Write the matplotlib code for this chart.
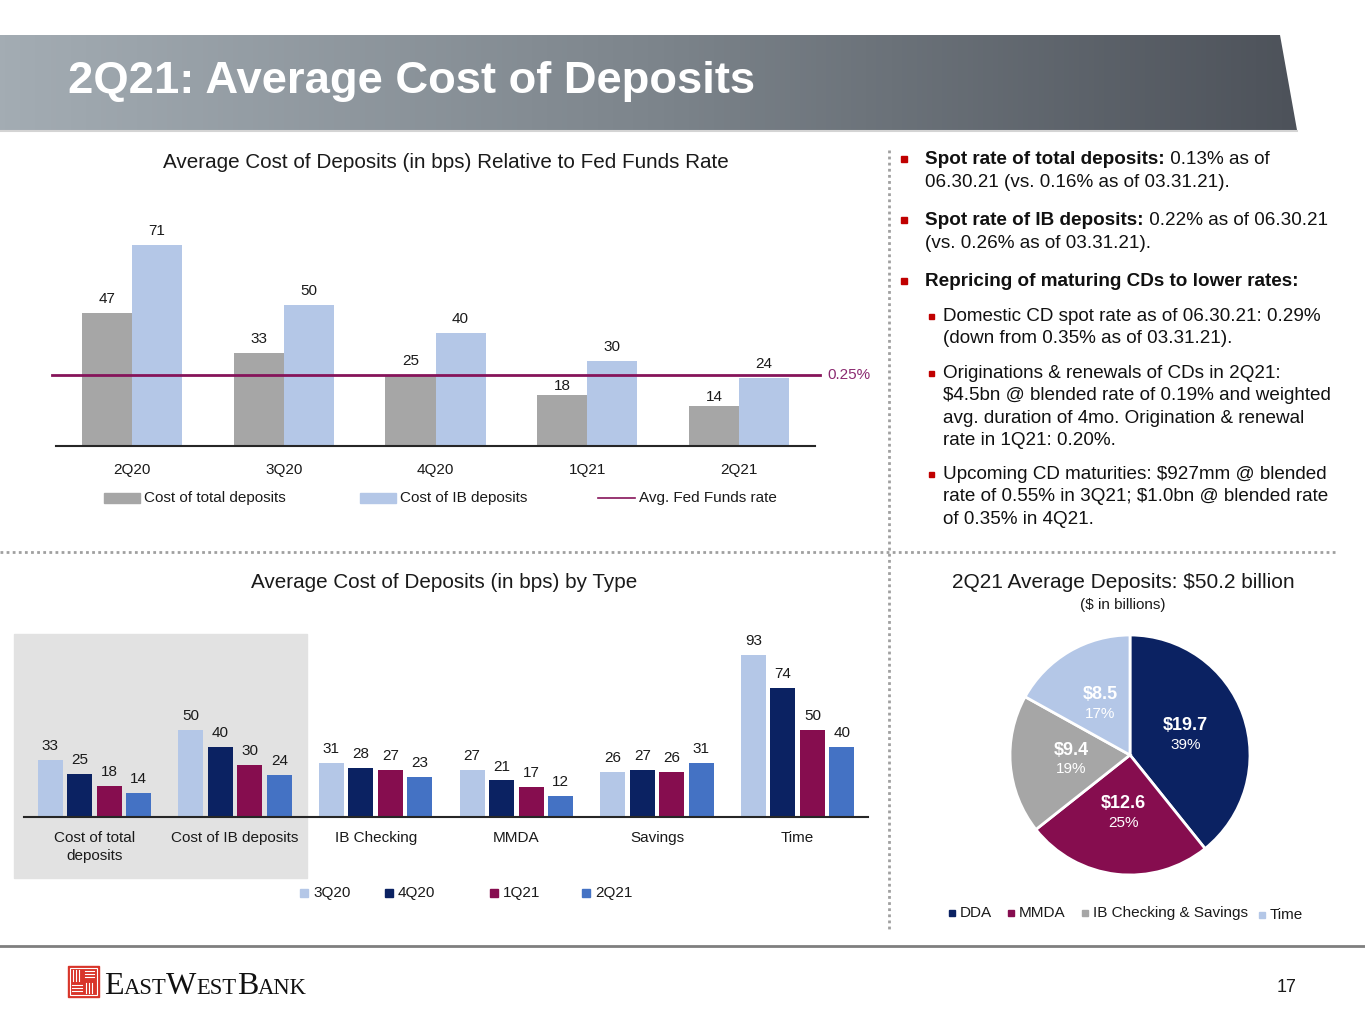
import numpy as np
import matplotlib
matplotlib.use('Agg')
import matplotlib.pyplot as plt
from matplotlib.patches import Rectangle, Polygon
from matplotlib.colors import LinearSegmentedColormap

plt.rcParams['font.family'] = ['Liberation Sans', 'DejaVu Sans']
plt.rcParams['text.parse_math'] = False

# --- data ---
quarters = ['2Q20', '3Q20', '4Q20', '1Q21', '2Q21']
cost_total = [47, 33, 25, 18, 14]
cost_ib = [71, 50, 40, 30, 24]
fed_funds_bps = 25
fed_label = '0.25%'

types = ['Cost of total\ndeposits', 'Cost of IB deposits', 'IB Checking', 'MMDA', 'Savings', 'Time']
series_names = ['3Q20', '4Q20', '1Q21', '2Q21']
q3_20 = [33, 50, 31, 27, 26, 93]
q4_20 = [25, 40, 28, 21, 27, 74]
q1_21 = [18, 30, 27, 17, 26, 50]
q2_21 = [14, 24, 23, 12, 31, 40]

pie_names = ['DDA', 'MMDA', 'IB Checking & Savings', 'Time']
pie_values = [19.7, 12.6, 9.4, 8.5]
pie_pcts = ['39%', '25%', '19%', '17%']

GRAY = '#a6a6a6'
LBLUE = '#b4c7e7'
NAVY = '#0b2262'
MAROON = '#860d4f'
BLUE = '#4472c4'
FED = '#86145a'
TXT = '#1a1a1a'
RED = '#c00000'

W, H = 1365, 1024
fig = plt.figure(figsize=(W / 100, H / 100), dpi=100)
bg = fig.add_axes([0, 0, 1, 1], zorder=0)
bg.axis('off')


def ax_at(x0, y0, x1, y1):
    return fig.add_axes([x0 / W, 1 - y1 / H, (x1 - x0) / W, (y1 - y0) / H], zorder=2)


# --- header band ---
cmap = LinearSegmentedColormap.from_list('hdr', ['#a3acb3', '#7d858c', '#4d525a'])
im = bg.imshow(np.linspace(0, 1, 256)[None, :], cmap=cmap, extent=(0, 1297, 130, 35),
               aspect='auto', zorder=1)
band = Polygon([(0, 35), (1280, 35), (1297, 130), (0, 130)], closed=True,
               transform=bg.transData, facecolor='none', edgecolor='none')
bg.add_patch(band)
im.set_clip_path(band)
bg.plot([0, 1297], [131, 131], color='#d4d4d4', lw=1.5, zorder=1)
bg.set_xlim(0, W)
bg.set_ylim(H, 0)
bg.text(68, 81, '2Q21: Average Cost of Deposits', color='white', fontsize=32.7,
        weight='bold', va='center', ha='left', zorder=3)

# separators
bg.plot([0, 1335], [552, 552], color='#a0a0a0', lw=2, ls=(0, (1, 1.2)), zorder=1)
bg.plot([889, 889], [150, 930], color='#a0a0a0', lw=2, ls=(0, (1, 1.2)), zorder=1)
bg.plot([0, W], [946, 946], color='#7f7f7f', lw=2, zorder=1)

# --- top chart ---
bg.text(446, 162, 'Average Cost of Deposits (in bps) Relative to Fed Funds Rate',
        fontsize=14.9, ha='center', va='center', color=TXT)
ax1 = ax_at(56, 205, 815, 446)
ax1.patch.set_alpha(0)
x = np.arange(len(quarters))
w = 0.33
b1 = ax1.bar(x - w / 2, cost_total, w, color=GRAY, zorder=2)
b2 = ax1.bar(x + w / 2, cost_ib, w, color=LBLUE, zorder=2)
for bars in (b1, b2):
    for r in bars:
        v = r.get_height()
        # labels just under the fed line are squeezed down so they stay clear of it
        off = 1.5 if fed_funds_bps - 12 < v < fed_funds_bps - 3 else 5
        ax1.annotate(f'{v:.0f}', (r.get_x() + r.get_width() / 2, v),
                     xytext=(0, off), textcoords='offset points', ha='center', va='bottom',
                     fontsize=11, color=TXT)
ax1.axhline(fed_funds_bps, xmin=-0.005, xmax=1.006, color=FED, lw=2, zorder=3, clip_on=False)
ax1.text(1.016, fed_funds_bps, fed_label, transform=ax1.get_yaxis_transform(),
         color='#8b2a70', fontsize=11, va='center', ha='left')
ax1.set_xlim(-0.5, len(quarters) - 0.5)
ax1.set_ylim(0, 241 / 2.83)
ax1.set_xticks(x)
ax1.set_xticklabels(quarters, fontsize=11, color=TXT)
ax1.tick_params(axis='x', length=0, pad=12)
ax1.set_yticks([])
for s in ['top', 'right', 'left']:
    ax1.spines[s].set_visible(False)
ax1.spines['bottom'].set_color('#262626')
ax1.spines['bottom'].set_linewidth(1.5)

# top legend
bg.add_patch(Rectangle((104, 493), 36, 10, color=GRAY, zorder=2))
bg.text(144, 498, 'Cost of total deposits', fontsize=11, va='center', color=TXT)
bg.add_patch(Rectangle((360, 493), 36, 10, color=LBLUE, zorder=2))
bg.text(400, 498, 'Cost of IB deposits', fontsize=11, va='center', color=TXT)
bg.plot([598, 635], [498, 498], color=FED, lw=1.2, zorder=2)
bg.text(639, 498, 'Avg. Fed Funds rate', fontsize=11, va='center', color=TXT)

# --- bottom bar chart ---
bg.text(444, 582, 'Average Cost of Deposits (in bps) by Type', fontsize=14.9,
        ha='center', va='center', color=TXT)
bg.add_patch(Rectangle((14, 634), 293, 244, color='#e2e2e2', zorder=1))
ax2 = ax_at(24, 622, 868, 817)
ax2.patch.set_alpha(0)
xt = np.arange(len(types))
pitch, bw = 0.21, 0.178
all_series = [q3_20, q4_20, q1_21, q2_21]
colors2 = [LBLUE, NAVY, MAROON, BLUE]
for i, (vals, c) in enumerate(zip(all_series, colors2)):
    bars = ax2.bar(xt + (i - 1.5) * pitch, vals, bw, color=c, zorder=2)
    for r in bars:
        ax2.annotate(f'{r.get_height():.0f}', (r.get_x() + r.get_width() / 2, r.get_height()),
                     xytext=(0, 5), textcoords='offset points', ha='center', va='bottom',
                     fontsize=11, color=TXT)
ax2.set_xlim(-0.5, len(types) - 0.5)
ax2.set_ylim(0, 195 / 1.74)
ax2.set_xticks(xt)
ax2.set_xticklabels(types, fontsize=11, color=TXT, linespacing=1.35)
ax2.tick_params(axis='x', length=0, pad=10)
ax2.set_yticks([])
for s in ['top', 'right', 'left']:
    ax2.spines[s].set_visible(False)
ax2.spines['bottom'].set_color('#262626')
ax2.spines['bottom'].set_linewidth(1.5)

# bottom legend
for name, c, lx in zip(series_names, colors2, [300, 385, 490, 582]):
    bg.add_patch(Rectangle((lx, 889), 8, 8, color=c, zorder=2))
    bg.text(lx + 13, 893, name, fontsize=11, va='center', color=TXT)

# --- pie ---
bg.text(1123, 582, '2Q21 Average Deposits: $50.2 billion', fontsize=15,
        ha='center', va='center', color=TXT)
bg.text(1123, 605, '($ in billions)', fontsize=11, ha='center', va='center', color=TXT)
ax3 = ax_at(1010, 635, 1250, 875)
pie_colors = [NAVY, MAROON, GRAY, LBLUE]
wedges, _ = ax3.pie(pie_values, colors=pie_colors, startangle=90, counterclock=False,
                    wedgeprops=dict(edgecolor='white', linewidth=2))
for wdg, v, p in zip(wedges, pie_values, pie_pcts):
    ang = np.deg2rad((wdg.theta1 + wdg.theta2) / 2)
    cx, cy = 0.49 * np.cos(ang), 0.49 * np.sin(ang)
    ax3.text(cx, cy + 0.08, f'${v}', color='white', fontsize=13, weight='bold',
             ha='center', va='center')
    ax3.text(cx, cy - 0.08, p, color='white', fontsize=11, ha='center', va='center')
ax3.set_xlim(-1, 1)
ax3.set_ylim(-1, 1)

# pie legend
for name, c, lx, ly in zip(pie_names, pie_colors, [952, 1011, 1085, 1262], [913, 913, 913, 915]):
    bg.add_patch(Rectangle((lx - 3, ly - 3), 6, 6, color=c, zorder=2))
    bg.text(lx + 8, ly, name, fontsize=11, va='center', color=TXT)

# --- bullets ---
fig.canvas.draw()
renderer = fig.canvas.get_renderer()
FS = 13.6


def rich_line(x0, y, parts):
    xx = x0
    for txt, bold in parts:
        t = bg.text(xx, y + 5, txt, fontsize=FS, weight='bold' if bold else 'normal',
                    va='baseline', ha='left', color='#111111')
        bb = t.get_window_extent(renderer)
        xx = bb.x1


def bullet(x, y, size):
    bg.add_patch(Rectangle((x - size / 2, y - size / 2), size, size, color=RED, zorder=2))


bullet(904, 159, 6)
rich_line(925, 159, [('Spot rate of total deposits:', True), (' 0.13% as of', False)])
rich_line(925, 182, [('06.30.21 (vs. 0.16% as of 03.31.21).', False)])
bullet(904, 220, 6)
rich_line(925, 220, [('Spot rate of IB deposits:', True), (' 0.22% as of 06.30.21', False)])
rich_line(925, 243, [('(vs. 0.26% as of 03.31.21).', False)])
bullet(904, 281, 6)
rich_line(925, 281, [('Repricing of maturing CDs to lower rates:', True)])

sub = [
    [316, 'Domestic CD spot rate as of 06.30.21: 0.29%', '(down from 0.35% as of 03.31.21).'],
    [373, 'Originations & renewals of CDs in 2Q21:', '$4.5bn @ blended rate of 0.19% and weighted',
     'avg. duration of 4mo. Origination & renewal', 'rate in 1Q21: 0.20%.'],
    [474, 'Upcoming CD maturities: $927mm @ blended', 'rate of 0.55% in 3Q21; $1.0bn @ blended rate',
     'of 0.35% in 4Q21.'],
]
for item in sub:
    y0 = item[0]
    bullet(931, y0, 5)
    for k, line in enumerate(item[1:]):
        rich_line(943, y0 + k * 22.3, [(line, False)])

# --- footer ---
bg.add_patch(Rectangle((68, 966), 31, 31, color='#d8352a', zorder=2))
bg.add_patch(Rectangle((70, 968), 27, 27, fill=False, edgecolor='white', lw=0.8, zorder=3))
for k in range(3):
    bg.plot([73 + k * 3, 73 + k * 3], [970, 981], color='white', lw=0.8, zorder=3)
    bg.plot([85, 94], [971 + k * 3, 971 + k * 3], color='white', lw=0.8, zorder=3)
    bg.plot([72, 82], [985 + k * 3, 985 + k * 3], color='white', lw=0.8, zorder=3)
    bg.plot([86 + k * 3, 86 + k * 3], [983, 993], color='white', lw=0.8, zorder=3)

xx = 104
for piece, fs in [('E', 23), ('AST', 16.3), ('W', 23), ('EST', 16.3), ('B', 23), ('ANK', 16.3)]:
    t = bg.text(xx, 994, piece, fontsize=fs, family='Liberation Serif', va='baseline',
                ha='left', color='#111111')
    xx = t.get_window_extent(renderer).x1

bg.text(1287, 987, '17', fontsize=13, ha='center', va='center', color=TXT)

fig.savefig('out.png', dpi=100)
